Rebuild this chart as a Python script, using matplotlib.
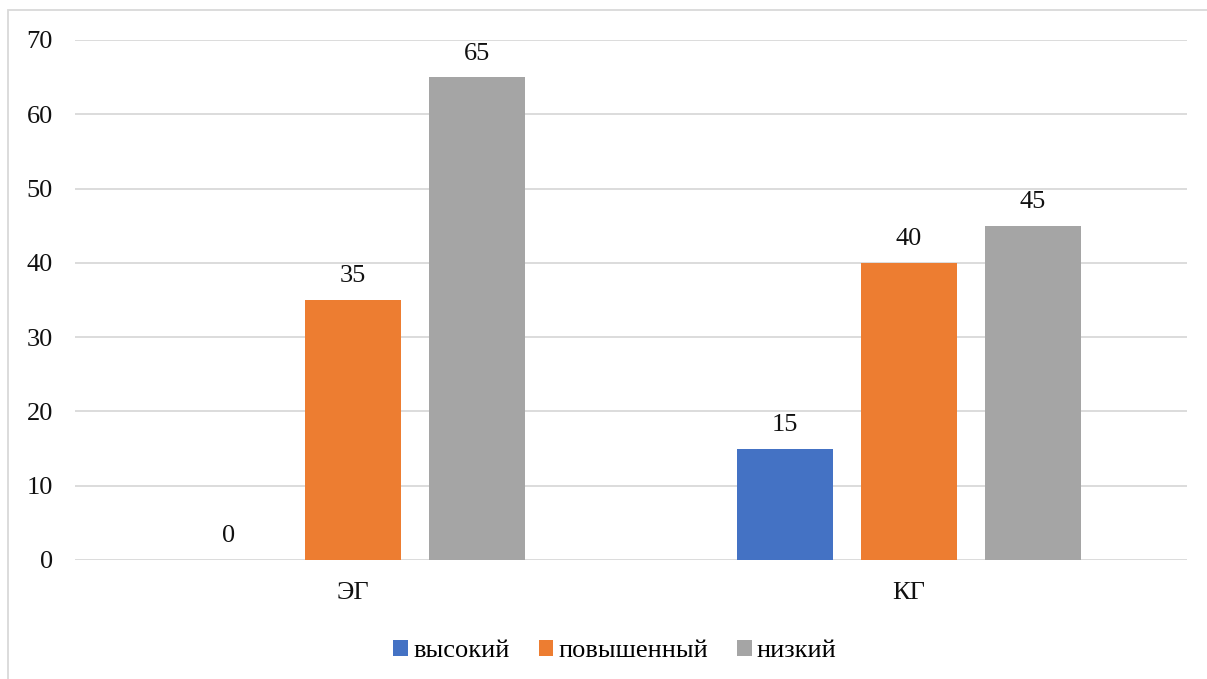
import numpy as np
import matplotlib.pyplot as plt
from matplotlib.patches import Rectangle

plt.rcParams['font.family'] = ['Liberation Serif', 'DejaVu Serif']

groups = ["ЭГ", "КГ"]
series = ["высокий", "повышенный", "низкий"]
vysokiy = [0, 15]
povyshenny = [35, 40]
nizkiy = [65, 45]
colors = ["#4472C4", "#ED7D31", "#A5A5A5"]

W, H = 1207, 679
fig = plt.figure(figsize=(W / 100, H / 100), dpi=100)
ax = fig.add_axes([75 / W, 1 - 560 / H, (1187 - 75) / W, 520 / H])

x = np.arange(len(groups))
bw = 0.174
step = 0.223
for i, (vals, name) in enumerate(zip([vysokiy, povyshenny, nizkiy], series)):
    pos = x + (i - 1) * step
    bars = ax.bar(pos, vals, width=bw, color=colors[i], label=name, zorder=3)
    for b, v in zip(bars, vals):
        ax.annotate(str(v), (b.get_x() + b.get_width() / 2, v),
                    xytext=(0, 17), textcoords="offset points",
                    ha="center", va="center", fontsize=19, color="#111111")

ax.set_xlim(-0.5, 1.5)
ax.set_ylim(0, 70)
ax.set_yticks(range(0, 71, 10))
ax.set_xticks(x)
ax.set_xticklabels(groups)
ax.tick_params(axis="both", length=0, labelsize=19, colors="#111111")
ax.tick_params(axis="y", pad=16)
ax.tick_params(axis="x", pad=16)
ax.grid(axis="y", color="#d9d9d9", linewidth=1.3, zorder=0)
for s in ax.spines.values():
    s.set_visible(False)

leg = fig.legend(loc="center", bbox_to_anchor=(615 / W, 1 - 651 / H), ncol=3,
                 frameon=False, fontsize=19, handlelength=0.55, handleheight=0.55,
                 handletextpad=0.2, columnspacing=1.1)

# chart outline
fig.patches.append(Rectangle((8 / W, -0.1), 1.2, 1 - 10 / H + 0.1,
                             transform=fig.transFigure, fill=False,
                             edgecolor="#d9d9d9", linewidth=1.3))

fig.savefig("out.png", dpi=100)
